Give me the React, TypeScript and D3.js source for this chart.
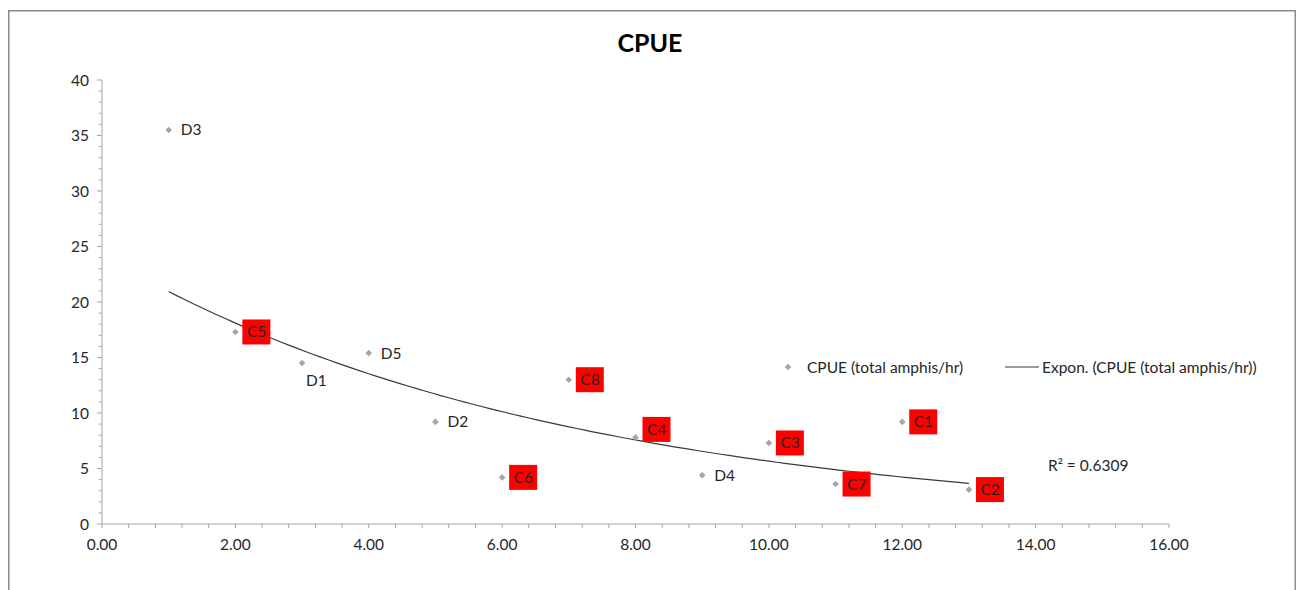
import React from 'react';
import * as d3 from 'd3';

// ---- data ----
const siteLabels = ['D3', 'C5', 'D1', 'D5', 'D2', 'C6', 'C8', 'C4', 'D4', 'C3', 'C7', 'C1', 'C2'];
const xValues = [1, 2, 3, 4, 5, 6, 7, 8, 9, 10, 11, 12, 13];
const cpueValues = [35.5, 17.3, 14.5, 15.4, 9.2, 4.2, 13.0, 7.8, 4.4, 7.3, 3.6, 9.2, 3.1];
const xTickValues = [0, 2, 4, 6, 8, 10, 12, 14, 16];
const yTickValues = [0, 5, 10, 15, 20, 25, 30, 35, 40];
const chartTitle = 'CPUE';
const seriesName = 'CPUE (total amphis/hr)';
const trendName = 'Expon. (CPUE (total amphis/hr))';
const r2Label = 'R² = 0.6309';

// label placement tweaks (style only)
const labelShift: Record<string, [number, number]> = {
  D1: [-8, 17],
  C4: [0, -8],
};

const FONT = 'Lato, "Open Sans", sans-serif';

export default function App() {
  const W = 1302, H = 590;
  const x = d3.scaleLinear().domain([0, 16]).range([102, 1169]);
  const y = d3.scaleLinear().domain([0, 40]).range([524, 80]);

  const pts = xValues.map((xv, i) => ({ x: xv, y: cpueValues[i], label: siteLabels[i] }));

  // exponential least-squares fit on ln(y)
  const mx = d3.mean(pts, p => p.x)!;
  const ml = d3.mean(pts, p => Math.log(p.y))!;
  const sxy = d3.sum(pts, p => (p.x - mx) * (Math.log(p.y) - ml));
  const sxx = d3.sum(pts, p => (p.x - mx) ** 2);
  const b = sxy / sxx;
  const a = Math.exp(ml - b * mx);
  const [xmin, xmax] = d3.extent(xValues) as [number, number];
  const trendPts = d3.range(0, 101).map(k => {
    const xv = xmin + ((xmax - xmin) * k) / 100;
    return [xv, a * Math.exp(b * xv)] as [number, number];
  });
  const trendPath = d3.line<[number, number]>()
    .x(d => x(d[0]))
    .y(d => y(d[1]))(trendPts)!;

  const diamond = d3.symbol().type(d3.symbolSquare).size(22)()!;

  const xMinor = d3.range(0, 16.0001, 0.4);
  const yMinor = d3.range(0, 40.0001, 1);

  const axisColor = '#A6A6A6';
  const textColor = '#262626';
  const markerColor = '#A5A5A5';
  const LABEL_FS = 15.5;

  return (
    <svg width={W} height={H} style={{ position: 'absolute', left: 0, top: 0, background: '#fff' }}
      fontFamily={FONT}>
      <rect x={0} y={0} width={W} height={H} fill="#fff" />
      <rect x={8.75} y={10.75} width={1286.5} height={600} fill="none" stroke="#8C8C8C" strokeWidth={1.5} />

      <text x={650} y={52} textAnchor="middle" fontSize={25} fontWeight="bold" fill="#000">{chartTitle}</text>

      {/* axes */}
      <line x1={x(0)} x2={x(16)} y1={y(0)} y2={y(0)} stroke={axisColor} strokeWidth={1} />
      <line x1={x(0)} x2={x(0)} y1={y(0)} y2={y(40)} stroke={axisColor} strokeWidth={1} />
      {xMinor.map((v, i) => (
        <line key={'xm' + i} x1={x(v)} x2={x(v)} y1={y(0)} y2={y(0) + 4} stroke={axisColor} />
      ))}
      {yMinor.map((v, i) => (
        <line key={'ym' + i} x1={x(0) - (v % 5 === 0 ? 5 : 3)} x2={x(0)} y1={y(v)} y2={y(v)} stroke={axisColor} />
      ))}
      {xTickValues.map(v => (
        <text key={'xt' + v} x={x(v)} y={y(0) + 26} textAnchor="middle" fontSize={15.5} fill={textColor}>
          {v.toFixed(2)}
        </text>
      ))}
      {yTickValues.map(v => (
        <text key={'yt' + v} x={x(0) - 13} y={y(v) + 5.5} textAnchor="end" fontSize={15.5} fill={textColor}>
          {v}
        </text>
      ))}

      {/* trendline */}
      <path d={trendPath} fill="none" stroke="#3A3A3A" strokeWidth={1.2} />

      {/* points */}
      {pts.map(p => (
        <path key={'p' + p.label} d={diamond} transform={`translate(${x(p.x)},${y(p.y)}) rotate(45)`} fill={markerColor} />
      ))}

      {/* data labels */}
      {pts.map(p => {
        const [dx, dy] = labelShift[p.label] || [0, 0];
        const px = x(p.x), py = y(p.y);
        const isC = p.label.startsWith('C');
        if (isC) {
          const bx = px + 7 + dx, by = py - 12.5 + dy;
          return (
            <g key={'l' + p.label}>
              <rect x={bx} y={by} width={28} height={25} fill="#FF0000" />
              <text x={bx + 4.5} y={by + 18} fontSize={LABEL_FS} fill={textColor}>{p.label}</text>
            </g>
          );
        }
        return (
          <text key={'l' + p.label} x={px + 12 + dx} y={py + 5.5 + dy} fontSize={LABEL_FS} fill={textColor}>
            {p.label}
          </text>
        );
      })}

      {/* legend */}
      <path d={diamond} transform="translate(788,367) rotate(45)" fill={markerColor} />
      <text x={807} y={372.5} fontSize={LABEL_FS} fill={textColor}>{seriesName}</text>
      <line x1={1005} x2={1039} y1={367} y2={367} stroke="#3A3A3A" strokeWidth={1.2} />
      <text x={1042} y={372.5} fontSize={LABEL_FS} fill={textColor}>{trendName}</text>

      <text x={1048} y={471} fontSize={LABEL_FS} fill={textColor}>{r2Label}</text>
    </svg>
  );
}
